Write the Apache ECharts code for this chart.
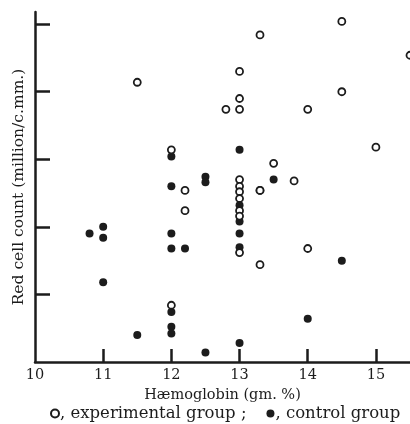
<!DOCTYPE html>
<html>
<head>
<meta charset="utf-8">
<script src="https://cdn.jsdelivr.net/npm/echarts@6/dist/echarts.min.js"></script>
<style>html,body{margin:0;padding:0;background:#fff}#c{width:410px;height:424px}</style>
</head>
<body>
<div id="c"></div>
<script>
// Hæmoglobin (gm. %) values and red cell counts (million/c.mm.)
var expHb  = [11.5, 13.3, 13.0, 13.0, 13.0, 12.8, 14.5, 15.5, 14.5, 14.0, 15.0, 13.5, 13.8, 13.3,
              12.0, 12.2, 13.3, 13.0, 13.0, 13.0, 13.0, 13.0, 13.0, 13.0, 12.2, 13.3, 14.0, 12.0];
var expRbc = [5.07, 5.42, 5.15, 4.95, 4.87, 4.87, 5.52, 5.27, 5.00, 4.87, 4.59, 4.47, 4.34, 4.27,
              4.57, 4.27, 4.27, 4.35, 4.30, 4.26, 4.21, 4.12, 4.08, 3.81, 4.12, 3.72, 3.84, 3.42];
var ctlHb  = [12.0, 13.0, 13.5, 12.0, 12.5, 12.5, 13.0, 13.0, 13.0, 13.0, 11.0, 10.8, 11.0, 11.0,
              11.5, 12.0, 12.0, 12.2, 12.0, 12.0, 12.0, 12.5, 13.0, 14.5, 14.0];
var ctlRbc = [4.52, 4.57, 4.35, 4.30, 4.37, 4.33, 4.16, 4.04, 3.95, 3.85, 4.00, 3.95, 3.92, 3.59,
              3.20, 3.95, 3.84, 3.84, 3.37, 3.26, 3.21, 3.07, 3.14, 3.75, 3.32];
var xTickLabels = [10, 11, 12, 13, 14, 15];
var xTickMarks = [11, 12, 13, 14, 15];
var yTickMarks = [3.5, 4.0, 4.5, 5.0, 5.5];
var seriesNames = ['experimental group', 'control group'];

function pairs(xs, ys) { return xs.map(function (x, i) { return [x, ys[i]]; }); }

var ink = '#1c1c1c';
var font = 'DejaVu Serif';
var chart = echarts.init(document.getElementById('c'));
chart.setOption({
  animation: false,
  backgroundColor: '#fff',
  grid: { left: 35, right: 0, top: 12, bottom: 62 },
  legend: {
    top: 400, left: 45,
    data: seriesNames,
    itemWidth: 8, itemHeight: 8, itemGap: 20,
    formatter: function (n) { return n === seriesNames[0] ? ', ' + n + ' ;' : ', ' + n; },
    textStyle: { fontFamily: font, fontSize: 16.5, color: ink, padding: [0, 0, 0, -4] }
  },
  xAxis: {
    type: 'value', min: 10, max: 15.5, interval: 1,
    name: 'Hæmoglobin (gm. %)', nameLocation: 'middle', nameGap: 25,
    nameTextStyle: { fontFamily: font, fontSize: 14.5, color: ink },
    axisLine: { onZero: false, lineStyle: { color: ink, width: 2.5 } },
    axisTick: { inside: true, length: 13, lineStyle: { color: ink, width: 2.5 }, customValues: xTickMarks },
    axisLabel: { fontFamily: font, fontSize: 14.5, color: ink, margin: 6, customValues: xTickLabels },
    splitLine: { show: false }
  },
  yAxis: {
    type: 'value', min: 3, max: 5.59, interval: 0.5,
    name: 'Red cell count (million/c.mm.)', nameLocation: 'middle', nameGap: 8,
    nameTextStyle: { fontFamily: font, fontSize: 15.5, color: ink },
    axisLine: { show: true, onZero: false, lineStyle: { color: ink, width: 2.5 } },
    axisTick: { inside: true, length: 15, lineStyle: { color: ink, width: 2.5 }, customValues: yTickMarks },
    axisLabel: { show: false },
    splitLine: { show: false }
  },
  series: [
    {
      name: seriesNames[0], type: 'scatter', symbol: 'circle', symbolSize: 7,
      itemStyle: { color: '#fff', borderColor: ink, borderWidth: 1.8, opacity: 1 },
      data: pairs(expHb, expRbc), z: 3
    },
    {
      name: seriesNames[1], type: 'scatter', symbol: 'circle', symbolSize: 8,
      itemStyle: { color: ink, opacity: 1 },
      data: pairs(ctlHb, ctlRbc), z: 2
    }
  ]
});
</script>
</body>
</html>
